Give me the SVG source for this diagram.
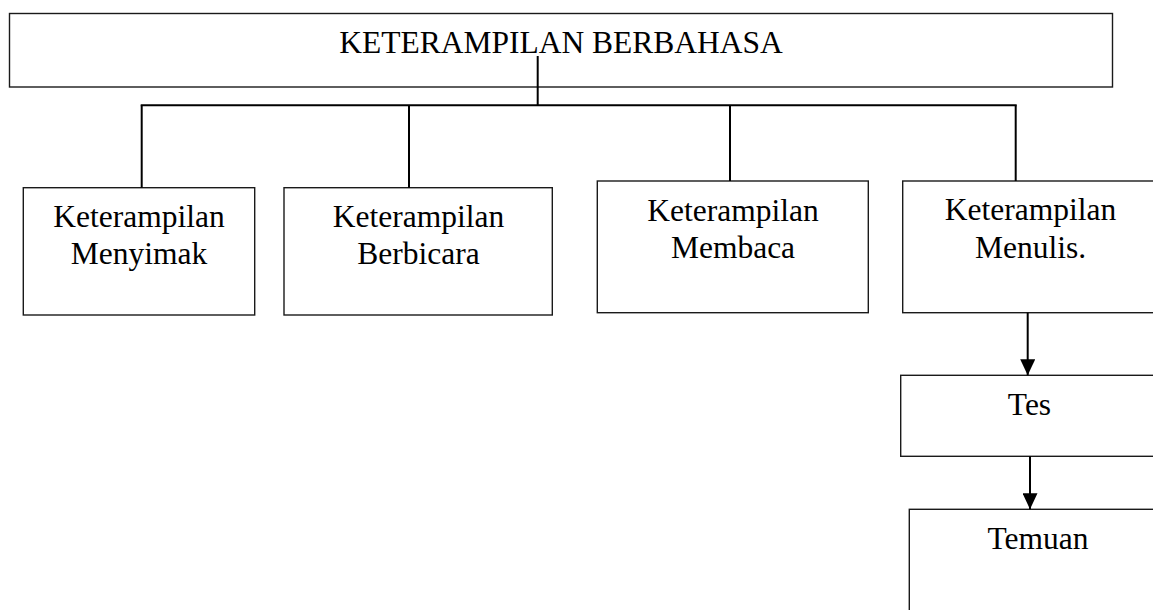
<svg xmlns="http://www.w3.org/2000/svg" width="1153" height="610" viewBox="0 0 1153 610">
  <style>
    .box { fill: #ffffff; stroke: #1a1a1a; stroke-width: 1.4; }
    .lbl { font-family: "Liberation Serif", "Times New Roman", serif; font-size: 31.5px; fill: #000000; text-anchor: middle; }
    .conn { fill: none; stroke: #000000; stroke-width: 2; }
  </style>
  <defs>
    <marker id="arrow" markerUnits="userSpaceOnUse" markerWidth="16" markerHeight="15" refX="16" refY="7.5" orient="auto">
      <path d="M0,0 L16,7.5 L0,15 z" fill="#000000"/>
    </marker>
  </defs>
  <rect width="1153" height="610" fill="#ffffff"/>

  <g id="node-root">
    <rect class="box" x="9.5" y="13.5" width="1103" height="73.5"/>
    <text class="lbl" x="561" y="53.3">KETERAMPILAN BERBAHASA</text>
  </g>

  <g id="node-menyimak">
    <rect class="box" x="23.3" y="187.7" width="231.4" height="127.3"/>
    <text class="lbl" x="139" y="227.3">Keterampilan</text>
    <text class="lbl" x="139" y="264.3">Menyimak</text>
  </g>

  <g id="node-berbicara">
    <rect class="box" x="284" y="187.7" width="268.3" height="127.3"/>
    <text class="lbl" x="418.5" y="226.7">Keterampilan</text>
    <text class="lbl" x="418.5" y="264.3">Berbicara</text>
  </g>

  <g id="node-membaca">
    <rect class="box" x="597.3" y="181" width="271" height="131.7"/>
    <text class="lbl" x="733" y="220.7">Keterampilan</text>
    <text class="lbl" x="733" y="258.3">Membaca</text>
  </g>

  <g id="node-menulis">
    <rect class="box" x="902.7" y="181" width="256" height="131.7"/>
    <text class="lbl" x="1030.5" y="220.3">Keterampilan</text>
    <text class="lbl" x="1030.5" y="258.3">Menulis.</text>
  </g>

  <g id="node-tes">
    <rect class="box" x="900.7" y="375.3" width="258" height="81"/>
    <text class="lbl" x="1029.5" y="415">Tes</text>
  </g>

  <g id="node-temuan">
    <rect class="box" x="909.3" y="509.3" width="258" height="120"/>
    <text class="lbl" x="1038" y="549.3">Temuan</text>
  </g>

  <g id="connectors">
    <line class="conn" x1="537.7" y1="56" x2="537.7" y2="105.3"/>
    <line class="conn" x1="140.7" y1="105.3" x2="1016.7" y2="105.3"/>
    <line class="conn" x1="141.7" y1="105.3" x2="141.7" y2="187.7"/>
    <line class="conn" x1="409" y1="105.3" x2="409" y2="187.7"/>
    <line class="conn" x1="730" y1="105.3" x2="730" y2="181"/>
    <line class="conn" x1="1015.7" y1="105.3" x2="1015.7" y2="181"/>
    <line class="conn" x1="1027.7" y1="312.7" x2="1027.7" y2="375.3" marker-end="url(#arrow)"/>
    <line class="conn" x1="1030" y1="456.3" x2="1030" y2="509.3" marker-end="url(#arrow)"/>
  </g>
</svg>
